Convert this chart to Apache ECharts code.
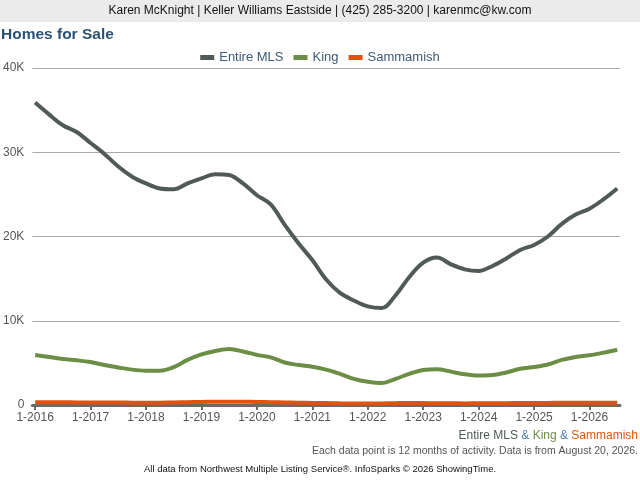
<!DOCTYPE html>
<html>
<head>
<meta charset="utf-8">
<script src="https://cdn.jsdelivr.net/npm/echarts@6/dist/echarts.min.js"></script>
<style>
  html, body { margin: 0; padding: 0; background: #fff; }
  #main { width: 640px; height: 480px; }
</style>
</head>
<body>
<div id="main"></div>
<script>
// quarterly reading points, 12-month rolling totals
var dates = [
    '2016-01', '2016-04', '2016-07', '2016-10',
    '2017-01', '2017-04', '2017-07', '2017-10',
    '2018-01', '2018-04', '2018-07', '2018-10',
    '2019-01', '2019-04', '2019-07', '2019-10',
    '2020-01', '2020-04', '2020-07', '2020-10',
    '2021-01', '2021-04', '2021-07', '2021-10',
    '2022-01', '2022-04', '2022-07', '2022-10',
    '2023-01', '2023-04', '2023-07', '2023-10',
    '2024-01', '2024-04', '2024-07', '2024-10',
    '2025-01', '2025-04', '2025-07', '2025-10',
    '2026-01', '2026-04', '2026-07'
];
var entireMls = [
    35900, 34500, 33200, 32400, 31100, 29800, 28300, 27100,
    26300, 25700, 25600, 26300, 26900, 27400, 27300, 26300,
    24900, 23800, 21400, 19200, 17200, 14900, 13300, 12400,
    11700, 11500, 13000, 15200, 16900, 17500, 16700, 16100,
    15900, 16500, 17400, 18400, 19000, 20000, 21500, 22600,
    23300, 24400, 25700
];
var king = [
    5930, 5700, 5450, 5300, 5100, 4750, 4450, 4200,
    4080, 4080, 4500, 5350, 6000, 6400, 6650, 6350,
    5950, 5650, 5050, 4750, 4550, 4200, 3700, 3100,
    2750, 2600, 3100, 3700, 4150, 4250, 3960, 3650,
    3500, 3550, 3850, 4300, 4500, 4800, 5350, 5700,
    5900, 6200, 6550
];
var sammamish = [
    330, 320, 320, 310, 300, 300, 290, 280,
    270, 280, 300, 330, 360, 380, 390, 380,
    370, 340, 300, 270, 250, 230, 200, 180,
    170, 190, 220, 240, 230, 210, 200, 190,
    200, 210, 220, 230, 240, 250, 260, 270,
    280, 280, 280
];
var yearTicks = [0, 12, 24, 36, 48, 60, 72, 84, 96, 108, 120];

var FONT = '"Liberation Sans", Arial, sans-serif';

function monthIndex(d) {
    var p = d.split('-');
    return (parseInt(p[0], 10) - 2016) * 12 + parseInt(p[1], 10) - 1;
}
function pairs(values) {
    return dates.map(function (d, i) { return [monthIndex(d), values[i]]; });
}
function lineSeries(name, values, color) {
    return {
        name: name,
        type: 'line',
        smooth: 0.35,
        showSymbol: false,
        symbol: 'none',
        lineStyle: {color: color, width: 4},
        itemStyle: {color: color},
        data: pairs(values)
    };
}

var chart = echarts.init(document.getElementById('main'));
chart.setOption({
    animation: false,
    textStyle: {fontFamily: FONT},
    grid: {left: 32, right: 20, top: 68, bottom: 75},
    legend: {
        top: 46,
        left: 'center',
        icon: 'rect',
        itemWidth: 14,
        itemHeight: 5,
        itemGap: 10,
        textStyle: {color: '#3d5a78', fontSize: 13, fontFamily: FONT},
        data: ['Entire MLS', 'King', 'Sammamish']
    },
    xAxis: {
        type: 'value',
        min: -0.6,
        max: 126.6,
        splitLine: {show: false},
        axisLine: {show: true, lineStyle: {color: '#6a6a6a', width: 3}},
        axisTick: {show: true, customValues: yearTicks, length: 5, lineStyle: {color: '#6a6a6a', width: 2}},
        axisLabel: {
            customValues: yearTicks,
            color: '#555',
            fontSize: 12,
            margin: 7,
            formatter: function (v) { return '1-' + (2016 + Math.round(v / 12)); }
        }
    },
    yAxis: {
        type: 'value',
        min: 0,
        max: 40000,
        interval: 10000,
        axisLine: {show: false},
        axisTick: {show: false},
        splitLine: {lineStyle: {color: '#aaaaaa', width: 1}},
        axisLabel: {
            color: '#555',
            fontSize: 12,
            margin: 8,
            formatter: function (v) { return v === 0 ? '0' : (v / 1000) + 'K'; }
        }
    },
    graphic: [
        {type: 'rect', left: 0, top: 0, shape: {width: 640, height: 22}, style: {fill: '#ebebeb'}},
        {
            type: 'text', x: 320, y: 11,
            style: {
                text: 'Karen McKnight | Keller Williams Eastside | (425) 285-3200 | karenmc@kw.com',
                font: '12px ' + FONT, fill: '#111', align: 'center', verticalAlign: 'middle'
            }
        },
        {
            type: 'text', x: 1, y: 35,
            style: {
                text: 'Homes for Sale',
                font: 'bold 15.5px ' + FONT, fill: '#2b5178', align: 'left', verticalAlign: 'middle'
            }
        },
        {
            type: 'text', x: 638, y: 436,
            style: {
                text: '{a|Entire MLS} {b|&} {c|King} {b|&} {d|Sammamish}',
                font: '12px ' + FONT, align: 'right', verticalAlign: 'middle',
                rich: {
                    a: {fill: '#4f5a58', font: '12px ' + FONT},
                    b: {fill: '#4a78b0', font: '12px ' + FONT},
                    c: {fill: '#6b8e45', font: '12px ' + FONT},
                    d: {fill: '#e05410', font: '12px ' + FONT}
                }
            }
        },
        {
            type: 'text', x: 638, y: 451,
            style: {
                text: 'Each data point is 12 months of activity. Data is from August 20, 2026.',
                font: '10.5px ' + FONT, fill: '#555', align: 'right', verticalAlign: 'middle'
            }
        },
        {
            type: 'text', x: 320, y: 469,
            style: {
                text: 'All data from Northwest Multiple Listing Service\u00ae. InfoSparks \u00a9 2026 ShowingTime.',
                font: '9.5px ' + FONT, fill: '#111', align: 'center', verticalAlign: 'middle'
            }
        }
    ],
    series: [
        lineSeries('Entire MLS', entireMls, '#505b59'),
        lineSeries('King', king, '#6b8e45'),
        lineSeries('Sammamish', sammamish, '#e0520e')
    ]
});
</script>
</body>
</html>
